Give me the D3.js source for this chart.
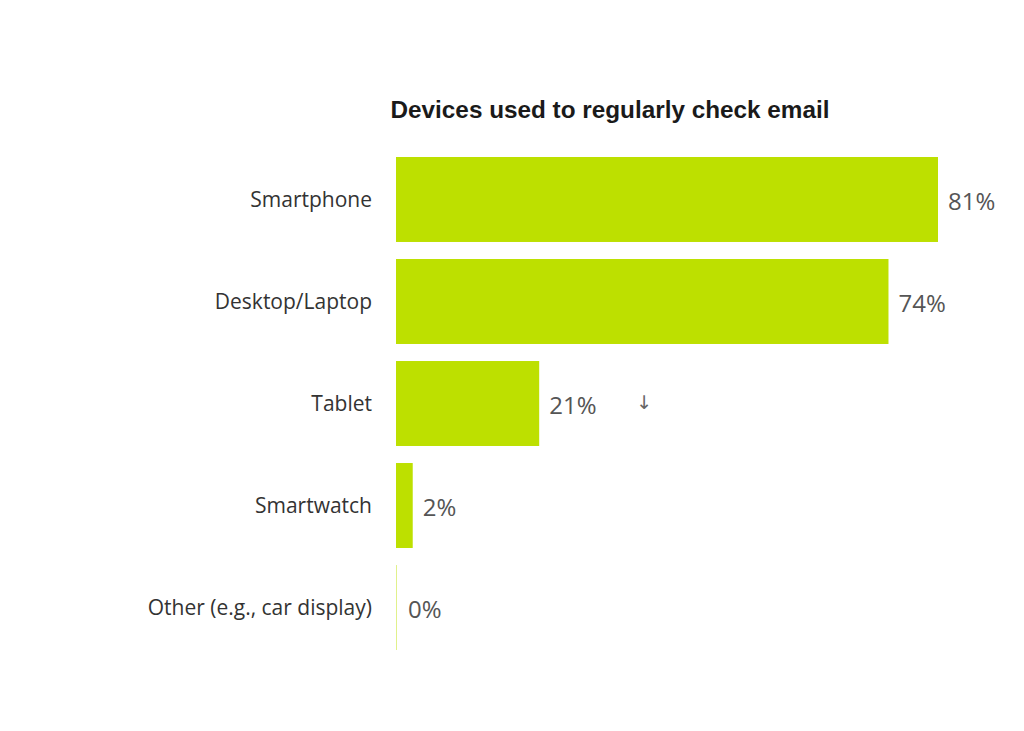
<!DOCTYPE html>
<html>
<head>
<meta charset="utf-8">
<script src="https://cdn.jsdelivr.net/npm/d3@7"></script>
<style>
  body{margin:0;background:#fff;}
  svg{display:block;}
</style>
</head>
<body>
<svg id="chart" width="1024" height="731"></svg>
<script>
//chart data---------------------------
var titleText='Devices used to regularly check email';
var devices=['Smartphone','Desktop/Laptop','Tablet','Smartwatch','Other (e.g., car display)'];
var shares=[81,73.6,21.4,2.5,0];
var shareLabels=['81%','74%','21%','2%','0%'];
var notes=['','','↓','',''];

var svg=d3.select('#chart');
var barLeft=396, barTop=157;

var x=d3.scaleLinear()
  .domain([0,81])
  .range([barLeft,938]);
var y=d3.scaleBand()
  .domain(devices)
  .range([barTop,650])
  .paddingInner(0.167)
  .paddingOuter(0);

svg.append('text')
  .attr('x',610)
  .attr('y',118)
  .attr('text-anchor','middle')
  .style('font-family','"Liberation Sans", Arial, sans-serif')
  .style('font-weight','bold')
  .style('font-size','24.3px')
  .style('fill','#1a1a1a')
  .text(titleText);

var rows=svg.selectAll('.row')
  .data(devices)
  .enter().append('g')
  .attr('class','row');

rows.append('rect')
  .attr('x',barLeft)
  .attr('y',d=>y(d))
  .attr('height',y.bandwidth())
  .attr('width',(d,i)=>Math.max(1,x(shares[i])-barLeft))
  .style('fill','#bde000')
  .style('opacity',(d,i)=>shares[i]>0?1:0.45);

// category labels on the left
rows.append('text')
  .attr('x',372)
  .attr('y',d=>y(d)+y.bandwidth()/2)
  .attr('dy','0.35em')
  .attr('text-anchor','end')
  .style('font-family','"Open Sans", sans-serif')
  .style('font-size','21px')
  .style('fill','#333')
  .text(d=>d);

// values after the bars
rows.append('text')
  .attr('x',(d,i)=>Math.max(x(shares[i]),barLeft)+ (shares[i]>0?10:12))
  .attr('y',d=>y(d)+y.bandwidth()/2)
  .attr('dy','0.42em')
  .style('font-family','"Open Sans", sans-serif')
  .style('font-size','24px')
  .style('fill','#555')
  .text((d,i)=>shareLabels[i]);

rows.append('text')
  .attr('x',(d,i)=>x(shares[i])+97)
  .attr('y',d=>y(d)+y.bandwidth()/2)
  .attr('dy','0.3em')
  .style('font-family','"DejaVu Sans", sans-serif')
  .style('font-size','19px')
  .style('fill','#666')
  .text((d,i)=>notes[i]);
</script>
</body>
</html>
